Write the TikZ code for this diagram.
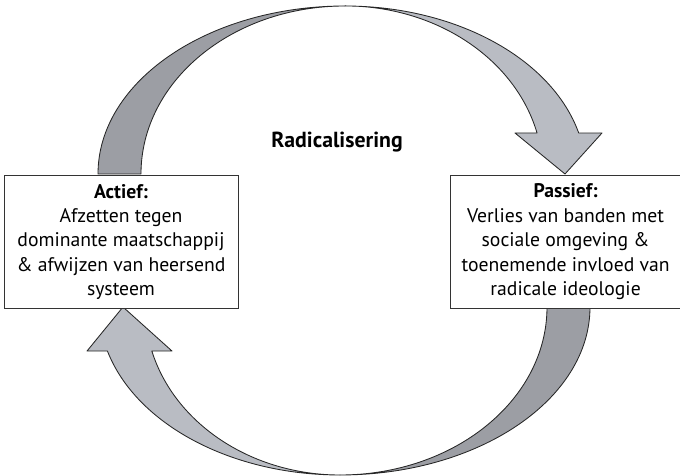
\documentclass[tikz,border=0pt]{standalone}
\usepackage{fontspec}
\setmainfont{PT Sans}
\usetikzlibrary{calc,positioning}

\definecolor{bandDark}{HTML}{9C9EA4}
\definecolor{bandLight}{HTML}{B9BCC3}

\begin{document}
\begin{tikzpicture}[
    box/.style={draw=black!80, fill=white, line width=0.7pt, align=center,
        inner sep=0pt, minimum height=3.325cm, font=\fontsize{14}{17.4}\selectfont},
    band/.style={draw=black!85, line width=0.6pt, line join=round}]

    \useasboundingbox (0,0) rectangle (17,11.9);

    \coordinate (top) at (8.625,7.55);
    \coordinate (bot) at (8.5,4.225);

    % upper arrow: back half, then front half with head
    \filldraw[band, fill=bandDark] ($(top)+(180:6.175 and 4.2)$)
        arc[start angle=180, end angle=90, x radius=6.175, y radius=4.2]
        arc[start angle=90, end angle=180, x radius=5.1, y radius=4.2] -- cycle;
    \filldraw[band, fill=bandLight] ($(top)+(0,4.2)$)
        arc[start angle=90, end angle=14.1, x radius=6.025, y radius=4.2]
        -- (15.05,8.575) -- (14.125,7.55) -- (12.875,8.575) -- (13.426,8.575)
        arc[start angle=14.1, end angle=90, x radius=4.95, y radius=4.2] -- cycle;

    % lower arrow
    \filldraw[band, fill=bandDark] ($(bot)+(0:6.25 and 4.2)$)
        arc[start angle=0, end angle=-90, x radius=6.25, y radius=4.2]
        arc[start angle=-90, end angle=0, x radius=5.175, y radius=4.2] -- cycle;
    \filldraw[band, fill=bandLight] ($(bot)+(0,-4.2)$)
        arc[start angle=-90, end angle=-164.8, x radius=6.025, y radius=4.2]
        -- (2.175,3.124) -- (3.075,4.225) -- (4.3,3.124) -- (3.796,3.124)
        arc[start angle=-164.8, end angle=-90, x radius=4.875, y radius=4.2] -- cycle;

    \node[box, minimum width=5.85cm] (actief) at (3.025,5.85)
        {\textbf{Actief:}\\Afzetten tegen\\dominante maatschappij\\\& afwijzen van heersend\\systeem};
    \node[box, minimum width=5.76cm] (passief) at (14.14,5.85)
        {\textbf{Passief:}\\Verlies van banden met\\sociale omgeving \&\\toenemende invloed van\\radicale ideologie};
    \node[font=\fontsize{15.5}{18}\selectfont\bfseries] (radicalisering) at (8.425,8.36) {Radicalisering};

\end{tikzpicture}
\end{document}
